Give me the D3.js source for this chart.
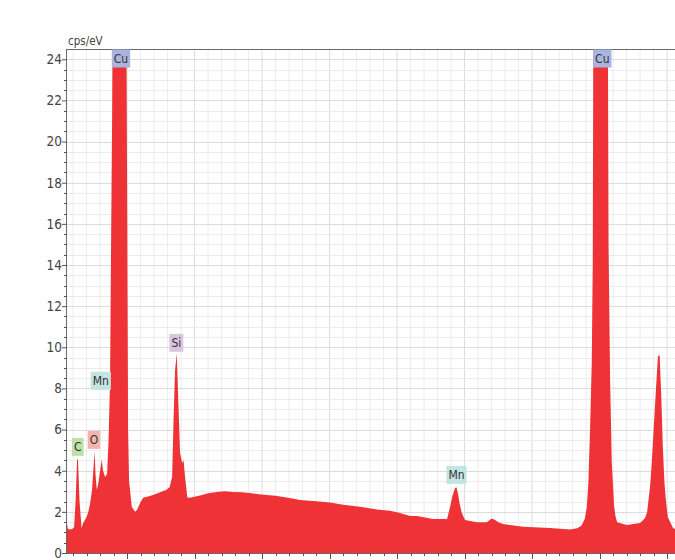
<!DOCTYPE html>
<html>
<head>
<meta charset="utf-8">
<script src="https://cdn.jsdelivr.net/npm/d3@7"></script>
<style>
  body { margin: 0; background: #fff; }
  svg { display: block; }
</style>
</head>
<body>
<div id="wrapper"></div>
<script>
// spectrum (keV, cps/eV)
const energy = [0.11, 0.126, 0.185, 0.215, 0.237, 0.259, 0.272, 0.296, 0.326, 0.348, 0.393, 0.422, 0.452, 0.481, 0.504, 0.519, 0.533, 0.551, 0.570, 0.600, 0.625, 0.644, 0.674, 0.704, 0.726, 0.748, 0.763, 0.778, 0.793, 0.985, 1.0, 1.015, 1.03, 1.07, 1.119, 1.148, 1.193, 1.237, 1.311, 1.385, 1.489, 1.585, 1.63, 1.667, 1.689, 1.711, 1.736, 1.760, 1.785, 1.815, 1.837, 1.859, 1.893, 1.933, 2.081, 2.2, 2.329, 2.45, 2.570, 2.7, 2.822, 2.95, 3.070, 3.2, 3.316, 3.45, 3.563, 3.8, 4.007, 4.2, 4.452, 4.7, 4.896, 5.044, 5.193, 5.296, 5.533, 5.741, 5.785, 5.822, 5.859, 5.881, 5.907, 5.933, 5.959, 6.007, 6.181, 6.329, 6.403, 6.452, 6.501, 6.570, 6.867, 7.267, 7.563, 7.667, 7.73, 7.78, 7.810, 7.834, 7.859, 7.884, 7.899, 7.911, 8.119, 8.133, 8.156, 8.181, 8.215, 8.235, 8.26, 8.403, 8.600, 8.674, 8.705, 8.726, 8.75, 8.773, 8.815, 8.864, 8.89, 8.914, 8.937, 8.96, 8.978, 9.01, 9.09, 9.2]
const counts = [1.4, 1.15, 1.15, 1.25, 2.5, 4.5, 4.6, 2.5, 1.2, 1.45, 1.7, 1.95, 2.4, 3.07, 4.2, 4.95, 3.8, 3.07, 3.3, 4.0, 4.55, 4.0, 3.7, 3.85, 5.5, 8.4, 15, 21, 30, 30, 18, 6, 3.5, 2.24, 2.0, 2.1, 2.43, 2.68, 2.75, 2.82, 2.95, 3.07, 3.2, 3.7, 6.5, 8.9, 9.7, 7.3, 4.87, 4.4, 4.5, 3.7, 2.7, 2.68, 2.8, 2.9, 2.97, 3.0, 2.97, 2.95, 2.92, 2.85, 2.82, 2.78, 2.72, 2.65, 2.58, 2.52, 2.45, 2.35, 2.25, 2.12, 2.05, 1.95, 1.8, 1.8, 1.65, 1.65, 2.24, 2.8, 3.16, 3.2, 2.8, 2.3, 1.95, 1.6, 1.5, 1.5, 1.68, 1.6, 1.5, 1.41, 1.27, 1.22, 1.14, 1.2, 1.32, 1.65, 2.2, 3.4, 6.0, 9.25, 14, 30, 30, 15, 8.4, 4.4, 2.3, 1.8, 1.5, 1.36, 1.46, 1.7, 2.0, 2.6, 3.3, 4.4, 6.8, 9.55, 9.63, 7.6, 5.16, 3.5, 2.72, 1.75, 1.2, 1.1]

// element markers
const peakNames = ["C", "O", "Mn", "Cu", "Si", "Mn", "Cu"]
const peakEnergy = [0.27, 0.51, 0.61, 0.91, 1.73, 5.88, 8.04]
const peakHeight = [4.72, 5.06, 7.93, 23.6, 9.78, 3.36, 23.6]
const peakColors = {C: "#bde0a8", O: "#f2b6ae", Mn: "#c2e5e2", Cu: "#a9b5de", Si: "#dcc3e0"}

const yTicks = d3.range(0, 25, 2)

function drawSpectrum() {
  const dimensions = {
    width: 675,
    height: 560,
    margin: { top: 49, right: 0, bottom: 7, left: 67 },
  }
  dimensions.boundedWidth = dimensions.width - dimensions.margin.left - dimensions.margin.right
  dimensions.boundedHeight = dimensions.height - dimensions.margin.top - dimensions.margin.bottom

  const data = energy.map((e, i) => ({ e: e, c: counts[i] }))

  const wrapper = d3.select("#wrapper")
    .append("svg")
      .attr("width", dimensions.width)
      .attr("height", dimensions.height)
      .style("font-family", "'DejaVu Sans Condensed', 'Liberation Sans Narrow', sans-serif")

  const bounds = wrapper.append("g")
    .attr("transform", `translate(${dimensions.margin.left},${dimensions.margin.top})`)

  // 67.5 px per keV
  const xScale = d3.scaleLinear()
    .domain([0.11, 0.11 + dimensions.boundedWidth / 67.5])
    .range([0, dimensions.boundedWidth])
  const yScale = d3.scaleLinear()
    .domain([0, 24.5])
    .range([dimensions.boundedHeight, 0])

  wrapper.append("defs").append("clipPath").attr("id", "plotClip")
    .append("rect")
      .attr("width", dimensions.boundedWidth)
      .attr("height", dimensions.boundedHeight)

  // grid
  const xMinor = d3.range(0.2, 9.2, 0.2)
  const yMinor = d3.range(0.5, 24.5, 0.5)
  bounds.append("g").selectAll("line").data(xMinor).join("line")
    .attr("x1", d => xScale(d)).attr("x2", d => xScale(d))
    .attr("y1", 0).attr("y2", dimensions.boundedHeight)
    .attr("stroke", d => Math.abs(d - Math.round(d)) < 1e-6 ? "#dcdcdc" : "#ececec")
    .attr("stroke-width", 1)
  bounds.append("g").selectAll("line").data(yMinor).join("line")
    .attr("x1", 0).attr("x2", dimensions.boundedWidth)
    .attr("y1", d => Math.round(yScale(d)) + 0.5).attr("y2", d => Math.round(yScale(d)) + 0.5)
    .attr("stroke", d => d % 2 === 0 ? "#dcdcdc" : "#ececec")
    .attr("stroke-width", 1)

  // spectrum
  const areaGenerator = d3.area()
    .x(d => xScale(d.e))
    .y0(yScale(0))
    .y1(d => yScale(d.c))
  bounds.append("path")
    .attr("clip-path", "url(#plotClip)")
    .attr("d", areaGenerator(data))
    .attr("fill", "#ee3236")

  // frame
  bounds.append("line")
    .attr("x1", -0.5).attr("x2", -0.5).attr("y1", 0).attr("y2", dimensions.boundedHeight + 1)
    .attr("stroke", "#6a6a6a")
  bounds.append("line")
    .attr("x1", 0).attr("x2", dimensions.boundedWidth).attr("y1", 0.5).attr("y2", 0.5)
    .attr("stroke", "#6a6a6a")
  bounds.append("line")
    .attr("x1", 0).attr("x2", dimensions.boundedWidth)
    .attr("y1", dimensions.boundedHeight + 0.5).attr("y2", dimensions.boundedHeight + 0.5)
    .attr("stroke", "#6a6a6a")

  // y axis
  const yAxisGenerator = d3.axisLeft(yScale)
    .tickValues(yTicks)
    .tickSize(5)
    .tickSizeOuter(0)
  const yAxis = bounds.append("g").call(yAxisGenerator)
  yAxis.select(".domain").remove()
  yAxis.selectAll(".tick line").attr("stroke", "#555")
  yAxis.selectAll(".tick text")
    .attr("x", -5)
    .attr("fill", "#444")
    .style("font-size", "13.5px")
    .style("font-family", "'DejaVu Sans Condensed', sans-serif")
  bounds.append("g").selectAll("line").data(yMinor.filter(d => d % 2 !== 0)).join("line")
    .attr("x1", -3).attr("x2", 0)
    .attr("y1", d => Math.round(yScale(d)) + 0.5).attr("y2", d => Math.round(yScale(d)) + 0.5)
    .attr("stroke", "#555")

  // x axis ticks (labels fall below the picture)
  bounds.append("g").selectAll("line").data(xMinor).join("line")
    .attr("x1", d => Math.round(xScale(d)) + 0.5).attr("x2", d => Math.round(xScale(d)) + 0.5)
    .attr("y1", dimensions.boundedHeight)
    .attr("y2", d => dimensions.boundedHeight + (Math.abs(d - Math.round(d)) < 1e-6 ? 6 : 3))
    .attr("stroke", "#555")

  // y unit
  bounds.append("text")
    .attr("x", 1).attr("y", -4)
    .attr("fill", "#444")
    .style("font-size", "11.5px")
    .text("cps/eV")

  // element labels
  const labels = bounds.append("g").selectAll("g")
    .data(peakNames.map((n, i) => ({ n: n, e: peakEnergy[i], h: peakHeight[i] })))
    .join("g")
      .attr("transform", d => `translate(${xScale(d.e)},${yScale(d.h)})`)
  labels.append("rect")
    .attr("y", -18).attr("height", 18)
    .attr("fill", d => peakColors[d.n])
  labels.append("text")
    .attr("text-anchor", "middle")
    .attr("y", -4.5)
    .attr("fill", "#333")
    .style("font-size", "12px")
    .text(d => d.n)
  labels.each(function() {
    const g = d3.select(this)
    const w = g.select("text").node().getComputedTextLength() + 4
    g.select("rect").attr("x", -w / 2).attr("width", w)
  })
}

drawSpectrum()
</script>
</body>
</html>
